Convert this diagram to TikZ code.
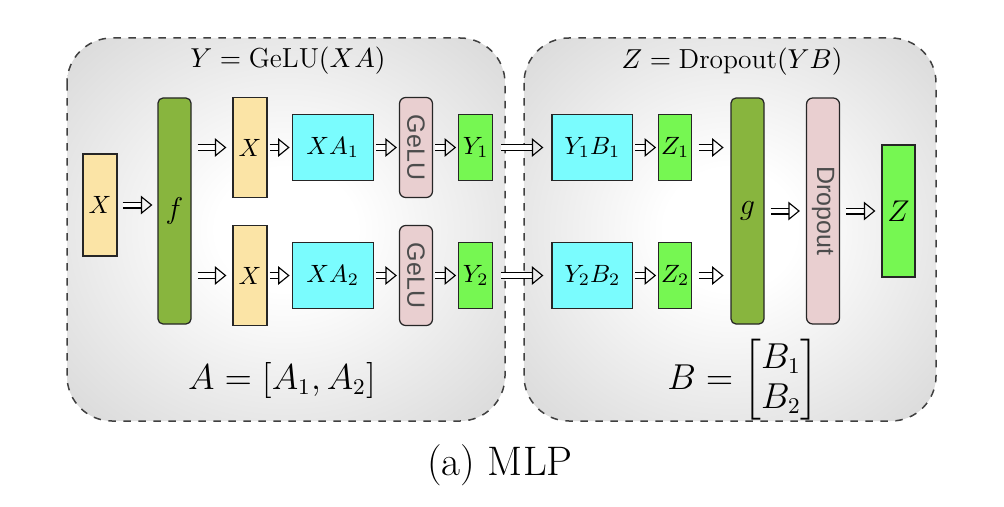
\documentclass[tikz,border=0pt]{standalone}
\usepackage{amsmath,amssymb}
\usepackage{graphicx}
\usepackage{fontspec}
\usepackage{xcolor}
\usepackage{tikz}
\usetikzlibrary{arrows.meta,positioning,calc}

\newfontfamily\labelsans{Liberation Sans}

\definecolor{inputtan}{HTML}{FBE4A6}
\definecolor{olivebar}{HTML}{88B53E}
\definecolor{mulcyan}{HTML}{7AFCFE}
\definecolor{actpink}{HTML}{E9CFD0}
\definecolor{outgreen}{HTML}{76F752}

\pgfdeclareradialshading{panelshade}{\pgfpoint{0bp}{0bp}}{%
  color(0bp)=(white); color(8bp)=(white); color(50bp)=(black!23);
  color(72bp)=(black!36)}

\begin{document}
\begin{tikzpicture}[x=0.4pt,y=-0.4pt,
    panel/.style={draw=black!75,dashed,line width=0.6pt,rounded corners=18pt,
                  shading=panelshade},
    blk/.style={draw=black!85,line width=0.5pt,inner sep=0pt,font=\normalsize},
    xin/.style={blk,fill=inputtan,minimum width=13.6pt,minimum height=40.8pt},
    xcol/.style={blk,fill=inputtan,minimum width=13.6pt,minimum height=40pt},
    bar/.style={blk,fill=olivebar,rounded corners=2pt,minimum width=13.2pt,
                minimum height=90.4pt,font=\large},
    mul/.style={blk,fill=mulcyan,minimum width=32.4pt,minimum height=26.4pt},
    act/.style={blk,fill=actpink,rounded corners=2.5pt,minimum width=13.2pt,
                text=black!70,font=\labelsans},
    outb/.style={blk,fill=outgreen,minimum width=13.6pt,minimum height=26.4pt},
    fat/.style={draw=black,line width=0.45pt,double=white,double distance=1.9pt,
                -{Triangle[open,length=4.6pt,width=7.4pt]}},
    node distance=10pt]
  \useasboundingbox (0,0) rectangle (1004,506);

  % two panels
  \path[panel] (67,38) rectangle (505,421);
  \path[panel] (524,38) rectangle (936,421);
  \node[font=\fontsize{11}{13}\selectfont] (ttlA) at (288,61) {$Y=\mathrm{GeLU}(XA)$};
  \node[font=\fontsize{11}{13}\selectfont] (ttlB) at (732,62) {$Z=\mathrm{Dropout}(YB)$};
  \node[font=\fontsize{13.5}{16}\selectfont] (eqA) at (282,380) {$A=[A_1,A_2]$};
  \node[font=\fontsize{13.5}{16}\selectfont] (eqB) at (743,380)
       {$B=\begin{bmatrix}B_1\\B_2\end{bmatrix}$};

  % left panel
  \node[xin] (x) at (100,205) {$X$};
  \node[bar] (f) at (174.5,211) {$f$};
  \node[xcol] (x1) at (250,147.5) {$X$};
  \node[xcol] (x2) at (250,275.5) {$X$};
  \node[mul,right=9.6pt of x1] (xa1) {$XA_1$};
  \node[mul,right=9.6pt of x2] (xa2) {$XA_2$};
  \node[act,minimum height=40pt,right=10pt of xa1] (gelu1) {\rotatebox{-90}{GeLU}};
  \node[act,minimum height=40pt,right=10pt of xa2] (gelu2) {\rotatebox{-90}{GeLU}};
  \node[outb,right=10pt of gelu1] (y1) {$Y_1$};
  \node[outb,right=10pt of gelu2] (y2) {$Y_2$};

  % right panel
  \node[mul,minimum width=32.2pt,right=23.2pt of y1] (yb1) {$Y_1B_1$};
  \node[mul,minimum width=32.2pt,right=23.2pt of y2] (yb2) {$Y_2B_2$};
  \node[outb,minimum width=13.2pt,right=10pt of yb1] (z1) {$Z_1$};
  \node[outb,minimum width=13.2pt,right=10pt of yb2] (z2) {$Z_2$};
  \node[bar] (g) at (747.5,211) {$g$};
  \node[act,minimum height=90.4pt] (drop) at (823,211) {\rotatebox{-90}{Dropout}};
  \node[outb,minimum width=13.2pt,minimum height=52.8pt,font=\large] (z) at (898.5,211) {$Z$};

  \node[font=\fontsize{16.5}{20}\selectfont] (cap) at (500,465) {(a) MLP};

  % connectors
  \draw[fat,shorten <=2pt,shorten >=2pt] (x.east) -- (x.east -| f.west);
  \foreach \r in {1,2}{
    \draw[fat,shorten <=2.4pt,shorten >=2.4pt] (f.east |- x\r) -- (x\r.west);
    \draw[fat,shorten <=0.8pt,shorten >=0.8pt] (x\r) -- (xa\r);
    \draw[fat,shorten <=0.8pt,shorten >=0.8pt] (xa\r) -- (gelu\r);
    \draw[fat,shorten <=0.9pt,shorten >=0.8pt] (gelu\r) -- (y\r);
    \draw[fat,shorten <=3.2pt,shorten >=3.2pt] (y\r) -- (yb\r);
    \draw[fat,shorten <=0.8pt,shorten >=0.8pt] (yb\r) -- (z\r);
    \draw[fat,shorten <=2.5pt,shorten >=2.7pt] (z\r.east) -- (z\r.east -| g.west);
  }
  \draw[fat,shorten <=2.4pt,shorten >=2.4pt] (g) -- (drop);
  \draw[fat,shorten <=2.4pt,shorten >=2.4pt] (drop) -- (z);
\end{tikzpicture}
\end{document}
